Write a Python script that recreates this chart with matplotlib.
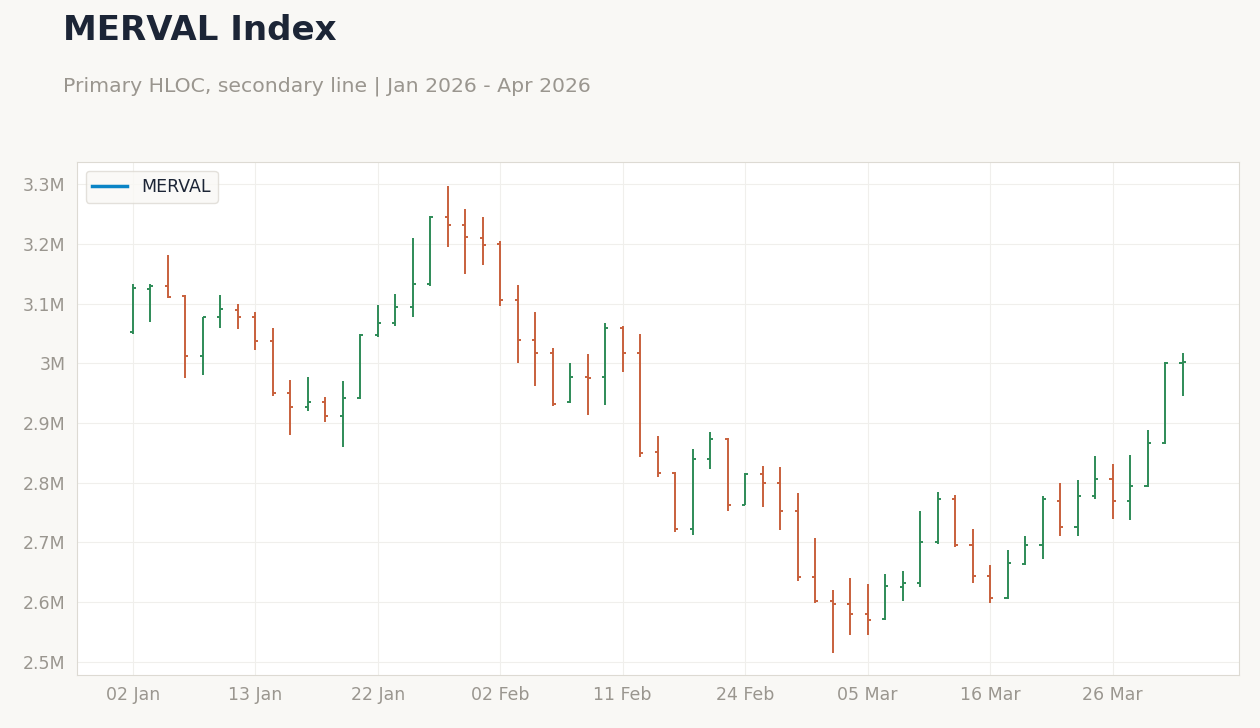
import matplotlib
matplotlib.use("Agg")
import matplotlib.pyplot as plt
from matplotlib.lines import Line2D
from matplotlib.ticker import FuncFormatter

# OHLC in millions, one row per trading day
opens = [3.052, 3.125, 3.130, 3.113, 3.013, 3.077, 3.090, 3.077, 3.037, 2.950,
         2.927, 2.935, 2.912, 2.942, 3.048, 3.067, 3.095, 3.133, 3.245, 3.232,
         3.210, 3.200, 3.107, 3.040, 3.017, 2.935, 2.977, 2.977, 3.060, 3.018,
         2.852, 2.817, 2.722, 2.840, 2.873, 2.763, 2.815, 2.800, 2.753, 2.642,
         2.602, 2.597, 2.580, 2.572, 2.625, 2.632, 2.700, 2.772, 2.695, 2.643,
         2.607, 2.663, 2.695, 2.770, 2.725, 2.778, 2.807, 2.770, 2.795, 2.867,
         3.000]
highs = [3.133, 3.133, 3.182, 3.115, 3.078, 3.115, 3.100, 3.087, 3.060, 2.972,
         2.977, 2.943, 2.970, 3.050, 3.098, 3.117, 3.210, 3.247, 3.297, 3.258,
         3.245, 3.205, 3.132, 3.087, 3.025, 3.000, 3.015, 3.068, 3.062, 3.050,
         2.878, 2.818, 2.857, 2.885, 2.875, 2.817, 2.828, 2.826, 2.783, 2.707,
         2.620, 2.640, 2.630, 2.647, 2.652, 2.752, 2.785, 2.780, 2.722, 2.662,
         2.687, 2.710, 2.777, 2.800, 2.805, 2.845, 2.832, 2.847, 2.888, 3.003,
         3.018]
lows = [3.050, 3.070, 3.110, 2.975, 2.980, 3.060, 3.057, 3.023, 2.945, 2.880,
        2.920, 2.902, 2.860, 2.940, 3.045, 3.063, 3.077, 3.130, 3.195, 3.150,
        3.165, 3.097, 3.000, 2.962, 2.928, 2.933, 2.913, 2.930, 2.985, 2.843,
        2.810, 2.718, 2.712, 2.823, 2.753, 2.762, 2.760, 2.720, 2.635, 2.598,
        2.515, 2.545, 2.545, 2.570, 2.602, 2.625, 2.698, 2.693, 2.632, 2.598,
        2.605, 2.662, 2.673, 2.710, 2.710, 2.773, 2.740, 2.738, 2.793, 2.865,
        2.945]
closes = [3.127, 3.130, 3.112, 3.013, 3.077, 3.092, 3.077, 3.037, 2.950, 2.927,
          2.935, 2.912, 2.942, 3.048, 3.068, 3.095, 3.133, 3.245, 3.232, 3.212,
          3.198, 3.107, 3.040, 3.017, 2.932, 2.977, 2.976, 3.060, 3.018, 2.850,
          2.817, 2.722, 2.840, 2.873, 2.763, 2.815, 2.800, 2.753, 2.642, 2.602,
          2.597, 2.580, 2.570, 2.627, 2.632, 2.700, 2.772, 2.695, 2.643, 2.607,
          2.665, 2.695, 2.772, 2.725, 2.778, 2.807, 2.770, 2.795, 2.867, 3.000,
          3.003]
tick_labels = ["02 Jan", "13 Jan", "22 Jan", "02 Feb", "11 Feb",
               "24 Feb", "05 Mar", "16 Mar", "26 Mar"]

BG = "#f9f8f5"
UP, DOWN = "#2e8b57", "#c8603c"

fig = plt.figure(figsize=(12.6, 7.28), dpi=100, facecolor=BG)
ax = fig.add_axes([0.061, 0.073, 0.922, 0.704], facecolor="white")

w = 0.18
for i, (o, h, l, c) in enumerate(zip(opens, highs, lows, closes)):
    col = UP if c > o else DOWN
    ax.plot([i, i], [l, h], color=col, lw=1.4, solid_capstyle="butt")
    ax.plot([i - w, i], [o, o], color=col, lw=1.4, solid_capstyle="butt")
    ax.plot([i, i + w], [c, c], color=col, lw=1.4, solid_capstyle="butt")

ax.set_xlim(-3.2, 63.2)
ax.set_ylim(2.478, 3.337)
ax.set_xticks(range(0, 7 * len(tick_labels), 7))
ax.set_xticklabels(tick_labels)
ax.set_yticks([2.5, 2.6, 2.7, 2.8, 2.9, 3.0, 3.1, 3.2, 3.3])
ax.yaxis.set_major_formatter(FuncFormatter(lambda v, p: f"{v:.1f}M".replace(".0M", "M")))
ax.grid(True, color="#f0efec", lw=0.8)
ax.set_axisbelow(True)
ax.tick_params(colors="#9a968f", labelsize=12.5, length=0, pad=8)
for s in ax.spines.values():
    s.set_color("#dddad3")

leg = ax.legend(handles=[Line2D([], [], color="#0a84c6", lw=2.5)], labels=["MERVAL"],
                loc="upper left", fontsize=12.5, frameon=True, facecolor=BG,
                edgecolor="#dddad3", handlelength=2)
for t in leg.get_texts():
    t.set_color("#1c2536")

fig.text(0.05, 0.958, "MERVAL Index", fontsize=24.5, fontweight="bold", color="#1c2536", va="center")
fig.text(0.05, 0.882, "Primary HLOC, secondary line | Jan 2026 - Apr 2026", fontsize=14.7,
         color="#9a968f", va="center")

fig.savefig("out.png", dpi=100, facecolor=BG)
